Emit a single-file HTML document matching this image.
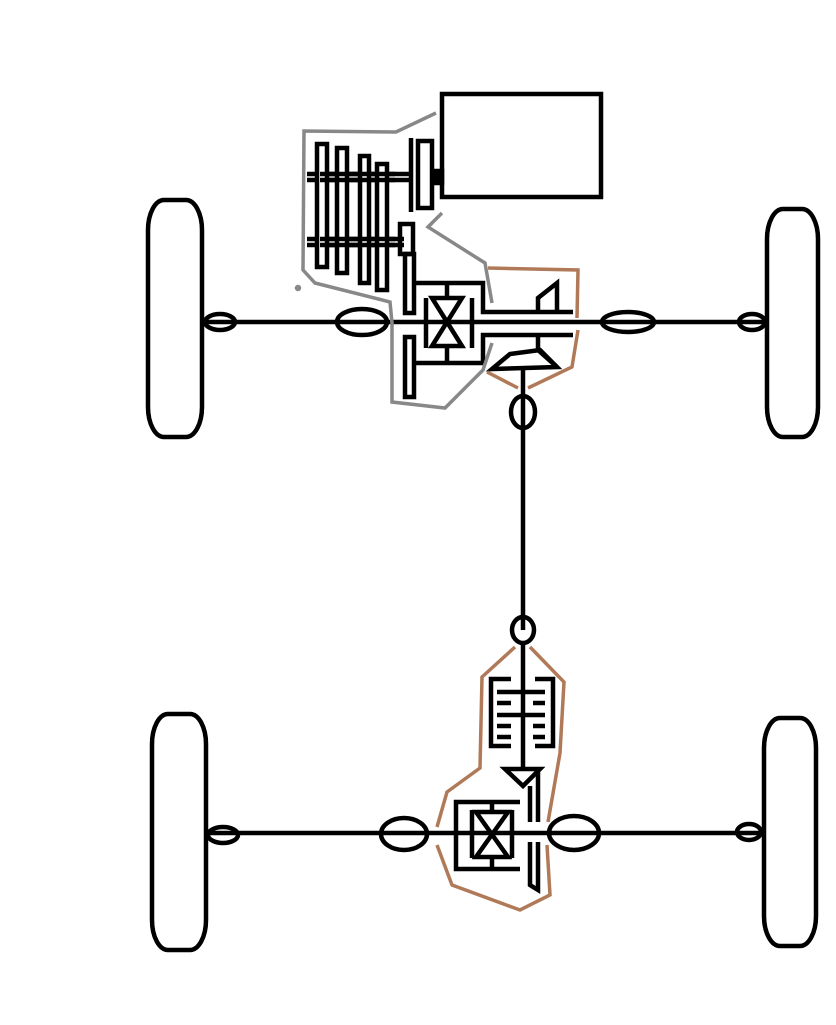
<!DOCTYPE html>
<html><head><meta charset="utf-8"><style>html,body{margin:0;padding:0;background:#fff}svg{display:block}</style></head>
<body>
<svg width="836" height="1025" viewBox="0 0 836 1025" xmlns="http://www.w3.org/2000/svg">
<g fill="none" stroke="#000" stroke-width="4.5" stroke-linejoin="miter">
<!-- wheels -->
<rect x="148" y="200" width="54" height="237" rx="16" ry="30"/>
<rect x="767" y="209" width="51" height="228" rx="16" ry="30"/>
<rect x="152" y="714" width="54" height="236" rx="16" ry="30"/>
<rect x="764" y="718" width="52" height="228" rx="16" ry="30"/>
<!-- front axle -->
<line x1="202" y1="322" x2="767" y2="322"/>
<ellipse cx="220" cy="322" rx="15" ry="8"/>
<ellipse cx="362" cy="322" rx="25" ry="13"/>
<ellipse cx="628" cy="322" rx="26" ry="10"/>
<ellipse cx="752" cy="322" rx="13" ry="8"/>
<!-- rear axle -->
<line x1="206" y1="833" x2="764" y2="833"/>
<ellipse cx="223" cy="835" rx="15" ry="8"/>
<ellipse cx="404" cy="834" rx="23" ry="16"/>
<ellipse cx="574" cy="833" rx="25" ry="17"/>
<ellipse cx="749" cy="832" rx="12" ry="8"/>
<!-- engine -->
<rect x="442" y="94" width="159" height="103"/>
<rect x="433" y="171" width="9" height="12" fill="#000"/>
<!-- gearbox -->
<line x1="307" y1="174" x2="410" y2="174"/>
<line x1="307" y1="180" x2="410" y2="180"/>
<line x1="307" y1="239" x2="404" y2="239"/>
<line x1="307" y1="245" x2="404" y2="245"/>
<rect x="317" y="144" width="10" height="123" fill="#fff"/>
<rect x="337" y="148" width="10" height="125" fill="#fff"/>
<rect x="360" y="156" width="9" height="127" fill="#fff"/>
<rect x="377" y="164" width="10" height="126" fill="#fff"/>
<line x1="320" y1="174" x2="395" y2="174"/><line x1="320" y1="180" x2="395" y2="180"/>
<line x1="320" y1="239" x2="395" y2="239"/><line x1="320" y1="245" x2="395" y2="245"/>
<line x1="411" y1="138" x2="411" y2="212"/>
<rect x="418" y="141" width="14" height="67"/>
<rect x="400" y="224" width="13" height="30"/>
<rect x="405" y="254" width="9" height="59"/>
<rect x="405" y="337" width="9" height="60"/>
<!-- front diff -->
<polyline points="414,283 483,283 483,312 573,312"/>
<polyline points="414,363 483,363 483,335 573,335"/>
<line x1="426" y1="298" x2="426" y2="348"/>
<line x1="472" y1="298" x2="472" y2="348"/>
<polygon points="432,298 462,298 432,346 462,346"/>
<line x1="447" y1="284" x2="447" y2="298"/><line x1="447" y1="346" x2="447" y2="362"/>
<polyline points="538,312 538,298 557,283 557,312"/>
<polyline points="538,335 538,350 557,367"/>
<polygon points="492,369 510,354 540,350 557,367"/>
<line x1="523" y1="369" x2="523" y2="630"/>
<ellipse cx="523" cy="412" rx="12" ry="16"/>
<ellipse cx="523" cy="630" rx="11" ry="13"/>
<!-- rear -->
<line x1="523" y1="643" x2="523" y2="768"/>
<polyline points="511,679 491,679 491,746 511,746"/>
<polyline points="535,679 553,679 553,746 535,746"/>
<line x1="497" y1="692" x2="545" y2="692"/>
<line x1="497" y1="703" x2="511" y2="703"/><line x1="533" y1="703" x2="545" y2="703"/>
<line x1="497" y1="715" x2="545" y2="715"/>
<line x1="497" y1="726" x2="511" y2="726"/><line x1="533" y1="726" x2="545" y2="726"/>
<line x1="497" y1="737" x2="511" y2="737"/><line x1="533" y1="737" x2="545" y2="737"/>
<polygon points="505,769 540,769 523,786"/>
<polyline points="530,786 530,822"/>
<polyline points="538,769 538,822"/>
<polyline points="530,842 530,885 538,890 538,842"/>
<polyline points="520,802 456,802 456,869 520,869"/>
<line x1="472" y1="810" x2="472" y2="858"/>
<line x1="512" y1="810" x2="512" y2="858"/>
<polygon points="476,812 508,812 476,857 508,857"/>
<line x1="492" y1="802" x2="492" y2="812"/><line x1="492" y1="857" x2="492" y2="869"/>
</g>
<g fill="none" stroke="#888" stroke-width="3.5">
<polyline points="436,113 396,132 304,131 303,270 315,283 390,302 392,323 392,402 445,408 483,370 492,343"/>
<polyline points="442,213 428,227 485,263 492,303"/>
<circle cx="298" cy="288" r="1.5" fill="#888"/>
</g>
<g fill="none" stroke="#b07a58" stroke-width="3.5">
<polyline points="488,268 578,270 577,318"/>
<polyline points="578,330 572,367 528,388"/>
<polyline points="518,388 487,372"/>
<polyline points="515,647 482,677 480,768 447,792 437,827"/>
<polyline points="437,845 452,885 520,910 550,895 547,845"/>
<polyline points="548,822 560,753 564,682 530,647"/>
</g>
</svg>
</body></html>
